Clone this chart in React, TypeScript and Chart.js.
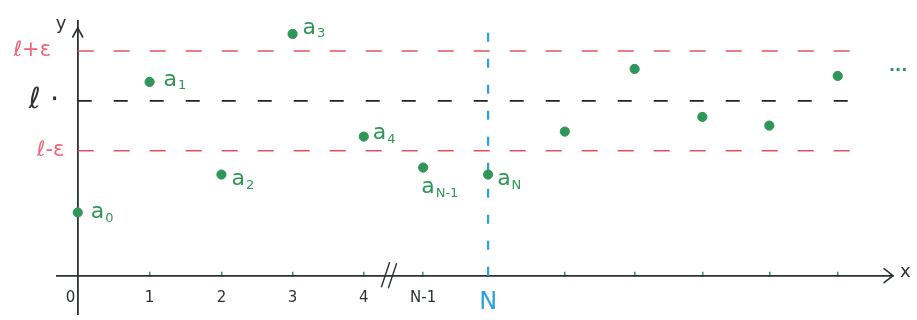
import React, { useEffect, useRef } from "react";
import { Chart, registerables } from "chart.js";

Chart.register(...registerables);

// ---- data ----
const xTickValues = [0, 1.04, 2.08, 3.11, 4.14, 5.0, 5.94, 7.05, 8.06, 9.04, 10.01, 11.0];
const xTickLabels = ["0   ", "1", "2", "3", "4", "N-1", "N", "", "", "", "", ""];
const pointValues = [2.53, 7.76, 4.05, 9.68, 5.57, 4.33, 4.05, 5.77, 8.28, 6.36, 6.01, 8.0];
const pointSubscripts = ["0", "1", "2", "3", "4", "N-1", "N", "", "", "", "", ""];
const ell = 7;
const eps = 2;
const yTickValues = [ell - eps, ell, ell + eps];
const yTickLabels = ["ℓ-ε  ", "ℓ ·  ", "ℓ+ε    "];
const levelLineEnd = 11.25;
const nIndex = 6;

// ---- styles ----
const RED = "#e2505e";
const RED_TEXT = "#ec6477";
const GREEN = "#2f9558";
const BLUE = "#2aa2e0";
const INK = "#2c3133";
const FONT = "'DejaVu Sans', sans-serif";

// label offsets for a_i (style only)
const labelOffsets: [number, number][] = [
  [13, 0], [14, -2], [10, 5], [10, -6], [9, -3], [-2, 20], [9, 5],
];

const sketchPlugin = {
  id: "sketch",
  afterDatasetsDraw(chart: any) {
    const { ctx, chartArea, scales } = chart;
    const xs = scales.x;
    const ys = scales.y;
    const x0 = xs.getPixelForValue(0);
    const y0 = ys.getPixelForValue(0);
    ctx.save();
    ctx.strokeStyle = INK;
    ctx.lineWidth = 1.6;
    ctx.lineCap = "round";
    // x arrow
    const xr = chartArea.right;
    ctx.beginPath();
    ctx.moveTo(xr - 9, y0 - 7);
    ctx.lineTo(xr, y0);
    ctx.lineTo(xr - 9, y0 + 7);
    ctx.stroke();
    // y arrow
    const yt = chartArea.top + 7;
    ctx.beginPath();
    ctx.moveTo(x0 - 5, yt + 9);
    ctx.lineTo(x0, yt);
    ctx.lineTo(x0 + 5, yt + 9);
    ctx.stroke();
    // axis letters
    ctx.fillStyle = INK;
    ctx.font = `18px ${FONT}`;
    ctx.textBaseline = "middle";
    ctx.textAlign = "left";
    ctx.fillText("x", xr + 7, y0 - 3);
    ctx.fillText("y", x0 - 22, yt - 4);
    // axis break //
    const bx = xs.getPixelForValue((xTickValues[4] + xTickValues[5]) / 2) - 6;
    ctx.lineWidth = 1.4;
    ctx.beginPath();
    ctx.moveTo(bx - 6, y0 + 11);
    ctx.lineTo(bx + 2, y0 - 13);
    ctx.moveTo(bx + 1, y0 + 12);
    ctx.lineTo(bx + 9, y0 - 12);
    ctx.stroke();
    // point labels a_i
    const meta = chart.getDatasetMeta(0);
    ctx.fillStyle = GREEN;
    ctx.textBaseline = "middle";
    pointSubscripts.forEach((sub, i) => {
      if (!sub) return;
      const el = meta.data[i];
      const off = labelOffsets[i] || [10, 0];
      const lx = el.x + off[0];
      const ly = el.y + off[1];
      ctx.font = `22px ${FONT}`;
      ctx.fillText("a", lx, ly);
      const w = ctx.measureText("a").width;
      ctx.font = `13px ${FONT}`;
      ctx.fillText(sub, lx + w + 1, ly + 6);
    });
    // continuation dots
    ctx.font = `bold 16px ${FONT}`;
    ctx.textBaseline = "alphabetic";
    ctx.fillText("...", xr - 4, ys.getPixelForValue(8.2));
    ctx.restore();
  },
};

export default function App() {
  const ref = useRef<HTMLCanvasElement>(null);
  useEffect(() => {
    document.body.style.margin = "0";
    const pointData = pointValues.map((y, i) => ({ x: xTickValues[i], y }));
    const level = (v: number) => [
      { x: 0, y: v },
      { x: levelLineEnd, y: v },
    ];
    const chart = new Chart(ref.current as HTMLCanvasElement, {
      type: "scatter",
      data: {
        datasets: [
          {
            data: pointData,
            pointRadius: 4.6,
            pointBackgroundColor: GREEN,
            pointBorderColor: GREEN,
            showLine: false,
          },
          {
            data: level(ell + eps),
            showLine: true,
            borderColor: RED,
            borderWidth: 1.5,
            borderDash: [16, 20],
            pointRadius: 0,
          },
          {
            data: level(ell),
            showLine: true,
            borderColor: "#222",
            borderWidth: 1.6,
            borderDash: [14, 22],
            pointRadius: 0,
          },
          {
            data: level(ell - eps),
            showLine: true,
            borderColor: RED,
            borderWidth: 1.5,
            borderDash: [16, 20],
            pointRadius: 0,
          },
          {
            data: [
              { x: xTickValues[nIndex], y: 0 },
              { x: xTickValues[nIndex], y: 10.2 },
            ],
            showLine: true,
            borderColor: BLUE,
            borderWidth: 2.2,
            borderDash: [9, 17],
            pointRadius: 0,
          },
        ],
      },
      options: {
        responsive: false,
        animation: false,
        events: [],
        layout: { padding: { left: 57, right: 24, top: 21, bottom: 0 } },
        plugins: { legend: { display: false }, tooltip: { enabled: false } },
        scales: {
          x: {
            type: "linear",
            min: -0.3,
            max: 11.8,
            position: { y: 0 } as any,
            afterBuildTicks: (s: any) => {
              s.ticks = xTickValues.map((v) => ({ value: v }));
            },
            ticks: {
              autoSkip: false,
              maxRotation: 0,
              padding: 18,
              callback: (_v: any, i: number) => xTickLabels[i],
              color: (c: any) => (c.index === nIndex ? BLUE : INK),
              font: (c: any) =>
                c.index === nIndex
                  ? { family: FONT, size: 24 }
                  : { family: FONT, size: 15 },
            },
            grid: {
              drawOnChartArea: false,
              drawTicks: true,
              tickLength: -5,
              lineWidth: 1.5,
              color: (c: any) =>
                c.index === 0 ? "rgba(0,0,0,0)" : c.index === nIndex ? BLUE : GREEN,
            },
            border: { display: true, color: INK, width: 1.8 },
          },
          y: {
            type: "linear",
            min: -1.55,
            max: 10.2,
            position: { x: 0 } as any,
            afterBuildTicks: (s: any) => {
              s.ticks = yTickValues.map((v) => ({ value: v }));
            },
            ticks: {
              padding: 0,
              callback: (_v: any, i: number) => yTickLabels[i],
              color: (c: any) => (c.index === 1 ? INK : RED_TEXT),
              font: (c: any) =>
                c.index === 1
                  ? { family: FONT, size: 29, lineHeight: 0.01 }
                  : { family: FONT, size: 21, lineHeight: 0.01 },
            },
            grid: {
              drawOnChartArea: false,
              drawTicks: true,
              tickLength: 24,
              color: "rgba(0,0,0,0)",
            },
            border: { display: true, color: INK, width: 1.8 },
          },
        },
      },
      plugins: [sketchPlugin],
    } as any);
    return () => chart.destroy();
  }, []);
  return (
    <div style={{ width: 917, height: 320, background: "#fff" }}>
      <canvas ref={ref} width={917} height={320} style={{ display: "block" }} />
    </div>
  );
}
